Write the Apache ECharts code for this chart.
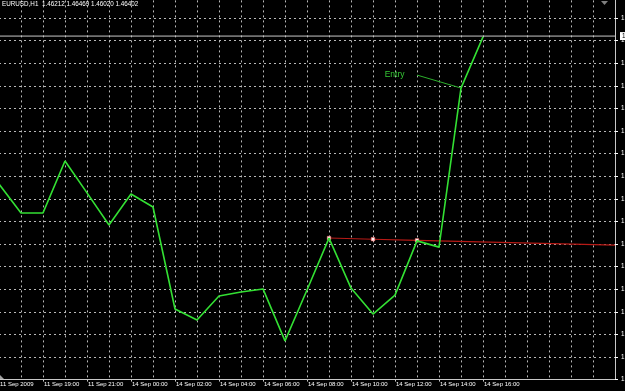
<!DOCTYPE html>
<html>
<head>
<meta charset="utf-8">
<script src="https://cdn.jsdelivr.net/npm/echarts@6/dist/echarts.min.js"></script>
<style>
html,body{margin:0;padding:0;background:#000;}
#c{width:625px;height:391px;}
</style>
</head>
<body>
<div id="c"></div>
<script>
// ---- data ----
const categories = [
  '11 Sep 17:00','11 Sep 18:00','11 Sep 19:00','11 Sep 20:00','11 Sep 21:00','11 Sep 22:00',
  '14 Sep 00:00','14 Sep 01:00','14 Sep 02:00','14 Sep 03:00','14 Sep 04:00','14 Sep 05:00',
  '14 Sep 06:00','14 Sep 07:00','14 Sep 08:00','14 Sep 09:00','14 Sep 10:00','14 Sep 11:00',
  '14 Sep 12:00','14 Sep 13:00','14 Sep 14:00','14 Sep 15:00','14 Sep 16:00',
  '14 Sep 17:00','14 Sep 18:00','14 Sep 19:00','14 Sep 20:00','14 Sep 21:00','14 Sep 22:00'
];
const tickLabels = [
  '11 Sep 2009','','11 Sep 19:00','','11 Sep 21:00','',
  '14 Sep 00:00','','14 Sep 02:00','','14 Sep 04:00','',
  '14 Sep 06:00','','14 Sep 08:00','','14 Sep 10:00','',
  '14 Sep 12:00','','14 Sep 14:00','','14 Sep 16:00',
  '','','','','',''
];
const closeValues = [
  1.45892, 1.45790, 1.45790, 1.45974, 1.45861, 1.45747,
  1.45857, 1.45811, 1.45450, 1.45411, 1.45496, 1.45510,
  1.45521, 1.45337, 1.45517, 1.45701, 1.45524, 1.45432,
  1.45499, 1.45691, 1.45669, 1.46232, 1.46413
];
const trendIndex = [15, 17, 19, 28];
const trendValues = [1.45701, 1.45697, 1.45693, 1.45676];
const trendHandles = [true, true, true, false];
const entryIndex = [19, 21];
const entryValues = [1.46278, 1.46232];
const entryLabel = 'Entry';
const bidIndex = [0, 28];
const bidLevel = 1.46416;
const headerText = 'EURUSD,H1  1.46212 1.46469 1.46020 1.46402';
const yMin = 1.452, yMax = 1.4656, yStep = 0.0008;

// ---- build series ----
const closeData = categories.map((c, i) => i < closeValues.length ? closeValues[i] : null);
const trendData = categories.map(() => null);
trendIndex.forEach((k, j) => {
  trendData[k] = trendHandles[j]
    ? { value: trendValues[j] }
    : { value: trendValues[j], symbol: 'none' };
});
const entryData = categories.map(() => null);
entryIndex.forEach((k, j) => {
  entryData[k] = j === 0
    ? { value: entryValues[j], label: { show: true, formatter: entryLabel } }
    : { value: entryValues[j] };
});
const bidData = categories.map(() => null);
bidIndex.forEach((k) => { bidData[k] = bidLevel; });

const gridColor = '#b8b8b8';
const chart = echarts.init(document.getElementById('c'), null, { renderer: 'canvas' });
chart.setOption({
  animation: false,
  backgroundColor: '#000000',
  title: {
    text: headerText,
    left: 2, top: 1, padding: 0,
    textStyle: { color: '#ffffff', fontSize: 6.3, fontWeight: 'normal', fontFamily: 'Liberation Sans' }
  },
  graphic: [
    {
      type: 'polygon', silent: true,
      shape: { points: [[601, 1], [608, 1], [604.5, 5]] },
      style: { fill: '#808080' }
    },
    {
      type: 'polygon', silent: true,
      shape: { points: [[0, 379], [4, 379], [0, 375]] },
      style: { fill: '#a0a0a0' }
    }
  ],
  grid: { left: -1, right: 10, top: -4.6, bottom: 11.4, containLabel: false, outerBoundsMode: 'none' },
  xAxis: {
    type: 'category',
    data: categories,
    boundaryGap: false,
    axisLine: { show: true, lineStyle: { color: '#c8c8c8', width: 1 } },
    axisTick: {
      show: true, length: 2, inside: false,
      interval: (i) => tickLabels[i] !== '',
      lineStyle: { color: '#c8c8c8' }
    },
    axisLabel: {
      show: true, interval: 0,
      formatter: (v, i) => tickLabels[i],
      align: 'left', margin: 2, padding: [0, 0, 0, 1],
      color: '#ffffff', fontSize: 6, fontFamily: 'Liberation Sans'
    },
    splitLine: {
      show: true, interval: 0,
      lineStyle: { color: gridColor, width: 1, type: [2, 3] }
    }
  },
  yAxis: {
    type: 'value',
    position: 'right',
    min: yMin, max: yMax, interval: yStep,
    axisLine: { show: true, lineStyle: { color: '#c8c8c8', width: 1 } },
    axisTick: { show: true, length: 3, inside: false, lineStyle: { color: '#ffffff' } },
    axisLabel: {
      show: true, margin: 6, color: '#ffffff', fontSize: 6.3, fontFamily: 'Liberation Sans',
      formatter: (v) => v.toFixed(5)
    },
    splitLine: { show: true, lineStyle: { color: gridColor, width: 1, type: [2, 3] } }
  },
  series: [
    {
      type: 'line',
      name: 'Bid',
      data: bidData,
      connectNulls: true,
      symbol: 'none',
      silent: true,
      lineStyle: { color: '#c8c8c8', width: 1 },
      endLabel: {
        show: true, distance: 5,
        formatter: () => bidLevel.toFixed(5),
        backgroundColor: '#ffffff', color: '#000000',
        fontSize: 6.3, padding: [1, 2], fontFamily: 'Liberation Sans'
      },
      z: 2
    },
    {
      type: 'line',
      name: 'Close',
      data: closeData,
      symbol: 'none',
      lineStyle: { color: '#33e033', width: 1.6 },
      z: 5
    },
    {
      type: 'line',
      name: 'Trend',
      data: trendData,
      connectNulls: true,
      symbol: 'rect',
      symbolSize: 3.5,
      showSymbol: true,
      itemStyle: { color: '#fff0f0', borderColor: '#ff6060', borderWidth: 0.5 },
      lineStyle: { color: '#b81a16', width: 1.1 },
      z: 4
    },
    {
      type: 'line',
      name: 'Entry',
      data: entryData,
      connectNulls: true,
      symbol: 'circle',
      symbolSize: 1,
      showSymbol: true,
      itemStyle: { color: 'rgba(0,0,0,0)' },
      lineStyle: { color: '#2cb02c', width: 1 },
      label: {
        position: 'left', distance: 12,
        color: '#35c835', fontSize: 8.5, fontFamily: 'Liberation Sans'
      },
      z: 3
    }
  ]
});
</script>
</body>
</html>
